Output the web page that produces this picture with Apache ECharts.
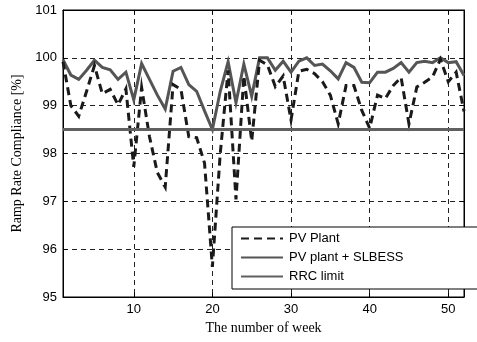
<!DOCTYPE html>
<html>
<head>
<meta charset="utf-8">
<script src="https://cdn.jsdelivr.net/npm/echarts@6/dist/echarts.min.js"></script>
<style>
  html, body { margin: 0; padding: 0; background: #fff; }
  #chart { width: 477px; height: 342px; }
</style>
</head>
<body>
<div id="chart"></div>
<script>
// Weekly ramp rate compliance (%), weeks 1..52
const weeks = Array.from({ length: 52 }, (_, i) => i + 1);

const pvPlant = [
  99.92, 99.00, 98.78, 99.30, 99.84, 99.25, 99.34, 99.02, 99.35, 97.72,
  99.38, 98.35, 97.60, 97.30, 99.44, 99.34, 98.35, 98.33, 97.80, 95.63,
  98.00, 99.74, 97.04, 99.62, 98.26, 99.95, 99.85, 99.40, 99.62, 98.70,
  99.72, 99.76, 99.67, 99.50, 99.22, 98.62, 99.42, 99.42, 98.90, 98.53,
  99.22, 99.15, 99.42, 99.59, 98.62, 99.39, 99.49, 99.60, 99.97, 99.50,
  99.70, 98.88
];

const pvPlantSlbess = [
  99.96, 99.64, 99.55, 99.74, 99.95, 99.80, 99.75, 99.55, 99.70, 99.12,
  99.88, 99.55, 99.22, 98.93, 99.72, 99.80, 99.44, 99.30, 98.89, 98.50,
  99.30, 99.92, 99.06, 99.87, 99.20, 100.00, 100.00, 99.74, 99.93, 99.70,
  99.93, 100.00, 99.84, 99.87, 99.73, 99.56, 99.90, 99.80, 99.49, 99.48,
  99.70, 99.70, 99.78, 99.90, 99.70, 99.90, 99.93, 99.90, 100.00, 99.90,
  99.92, 99.63
];

const rrcLimitValue = 98.5;
const rrcLimit = weeks.map(() => rrcLimitValue);

const xTickValues = [10, 20, 30, 40, 50];
const yMin = 95, yMax = 101;

const seriesNames = ['PV Plant', 'PV plant + SLBESS', 'RRC limit'];

const pair = (vals) => weeks.map((w, i) => [w, vals[i]]);

const sansFont = 'Liberation Sans';
const serifFont = 'Liberation Serif';
const gridDash = { color: '#222', width: 1, type: [5, 4] };

const chart = echarts.init(document.getElementById('chart'), null, { renderer: 'canvas' });

chart.setOption({
  animation: false,
  backgroundColor: '#fff',
  grid: {
    left: 63, right: 13, top: 10, bottom: 45,
    show: true, borderColor: '#000', borderWidth: 1, backgroundColor: 'transparent'
  },
  legend: {
    orient: 'vertical',
    left: 232, top: 227,
    padding: [5, 80, 6, 8],
    backgroundColor: '#fff',
    borderColor: '#000',
    borderWidth: 1,
    itemWidth: 42,
    itemHeight: 10,
    itemGap: 6,
    // line-only legend samples: hide the marker drawn on each sample
    itemStyle: { opacity: 0 },
    textStyle: { fontFamily: sansFont, fontSize: 13, color: '#000', padding: [0, 0, 0, 1] },
    data: seriesNames
  },
  xAxis: [{
    type: 'value',
    min: 1, max: 52,
    name: 'The number of week',
    nameLocation: 'middle',
    nameGap: 24,
    nameTextStyle: { fontFamily: serifFont, fontSize: 14, color: '#000' },
    axisLine: { show: true, lineStyle: { color: '#000', width: 1 } },
    axisTick: { show: true, inside: true, length: 4, customValues: xTickValues, lineStyle: { color: '#000' } },
    axisLabel: { customValues: xTickValues, fontFamily: sansFont, fontSize: 13, color: '#000', margin: 6 },
    splitLine: { show: true, lineStyle: gridDash }
  }, {
    type: 'value',
    position: 'top',
    min: 1, max: 52,
    axisLine: { show: true, lineStyle: { color: '#000' } },
    axisTick: { show: true, inside: true, length: 4, customValues: xTickValues, lineStyle: { color: '#000' } },
    axisLabel: { show: false },
    splitLine: { show: false }
  }],
  yAxis: [{
    type: 'value',
    min: yMin, max: yMax, interval: 1,
    name: 'Ramp Rate Compliance [%]',
    nameLocation: 'middle',
    nameGap: 34,
    nameTextStyle: { fontFamily: serifFont, fontSize: 14, color: '#000' },
    axisLine: { show: true, lineStyle: { color: '#000', width: 1 } },
    axisTick: { show: true, inside: true, length: 4, lineStyle: { color: '#000' } },
    axisLabel: { fontFamily: sansFont, fontSize: 13, color: '#000', margin: 6 },
    splitLine: { show: true, lineStyle: gridDash }
  }, {
    type: 'value',
    position: 'right',
    min: yMin, max: yMax, interval: 1,
    axisLine: { show: true, lineStyle: { color: '#000' } },
    axisTick: { show: true, inside: true, length: 4, lineStyle: { color: '#000' } },
    axisLabel: { show: false },
    splitLine: { show: false }
  }],
  series: [
    {
      name: seriesNames[1],
      type: 'line',
      data: pair(pvPlantSlbess),
      symbol: 'none',
      z: 2,
      lineStyle: { color: '#555', width: 3, join: 'miter' },
      itemStyle: { color: '#555' }
    },
    {
      name: seriesNames[0],
      type: 'line',
      data: pair(pvPlant),
      symbol: 'none',
      z: 3,
      lineStyle: { color: '#1a1a1a', width: 3, type: [8, 5], join: 'miter' },
      itemStyle: { color: '#1a1a1a' }
    },
    {
      name: seriesNames[2],
      type: 'line',
      data: pair(rrcLimit),
      symbol: 'none',
      z: 4,
      lineStyle: { color: '#606060', width: 3 },
      itemStyle: { color: '#606060' }
    }
  ]
});
</script>
</body>
</html>
